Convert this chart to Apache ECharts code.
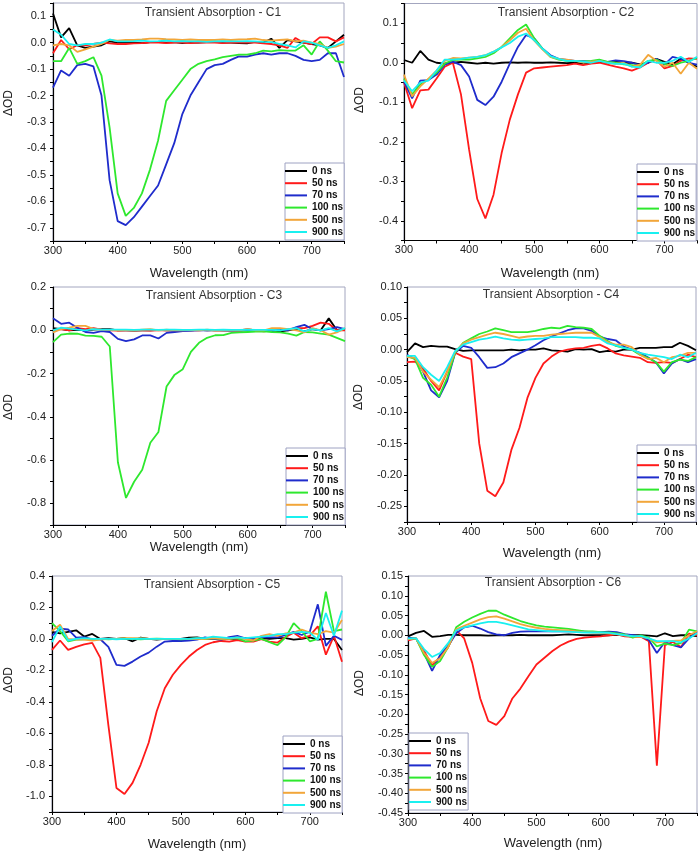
<!DOCTYPE html>
<html>
<head>
<meta charset="utf-8">
<script src="https://cdn.jsdelivr.net/npm/echarts/dist/echarts.min.js"></script>
<style>
html,body{margin:0;padding:0;background:#fff;}
#chart{width:700px;height:852px;}
</style>
</head>
<body>
<div id="chart"></div>
<script>
// ---------------- DATA ----------------
const wavelengths = [300, 312.5, 325, 337.5, 350, 362.5, 375, 387.5, 400, 412.5, 425, 437.5, 450, 462.5, 475, 487.5, 500, 512.5, 525, 537.5, 550, 562.5, 575, 587.5, 600, 612.5, 625, 637.5, 650, 662.5, 675, 687.5, 700, 712.5, 725, 737.5, 750];
const seriesNames = ['0 ns', '50 ns', '70 ns', '100 ns', '500 ns', '900 ns'];
const panelTitles = ['Transient Absorption - C1', 'Transient Absorption - C2', 'Transient Absorption - C3', 'Transient Absorption - C4', 'Transient Absorption - C5', 'Transient Absorption - C6'];
const xTicks = [300, 400, 500, 600, 700];

// C1
const c1_0 = [0.11, 0.02, 0.055, -0.01, -0.02, -0.015, -0.01, 0.005, 0, 0.003, 0, -0.002, 0.002, 0.003, 0, 0.002, -0.002, 0.001, 0, 0.002, 0.003, 0, 0, -0.002, -0.003, 0.003, 0, 0.015, -0.02, 0.01, 0.005, 0, -0.005, -0.01, -0.02, 0.005, 0.03];
const c1_50 = [-0.04, 0.01, -0.025, -0.01, -0.01, -0.005, 0, -0.003, -0.005, -0.005, -0.003, -0.002, 0, 0, -0.002, 0, 0, -0.002, 0, 0, 0, -0.002, 0, 0, 0, 0, -0.003, -0.005, -0.01, -0.02, 0.018, 0, -0.005, 0.02, 0.02, 0.005, 0.02];
const c1_70 = [-0.17, -0.105, -0.125, -0.085, -0.08, -0.09, -0.2, -0.52, -0.675, -0.69, -0.66, -0.62, -0.58, -0.54, -0.46, -0.38, -0.27, -0.2, -0.15, -0.1, -0.085, -0.08, -0.065, -0.052, -0.053, -0.045, -0.04, -0.045, -0.04, -0.04, -0.05, -0.065, -0.07, -0.065, -0.04, -0.04, -0.13];
const c1_100 = [-0.07, -0.07, -0.02, -0.08, -0.07, -0.055, -0.125, -0.32, -0.57, -0.655, -0.625, -0.57, -0.48, -0.37, -0.22, -0.18, -0.14, -0.1, -0.08, -0.07, -0.063, -0.055, -0.05, -0.045, -0.045, -0.04, -0.03, -0.033, -0.028, -0.03, -0.03, -0.01, -0.045, 0.005, -0.03, -0.07, -0.075];
const c1_500 = [-0.01, -0.005, -0.01, -0.035, -0.025, -0.015, -0.005, 0.01, 0.008, 0.01, 0.01, 0.012, 0.015, 0.015, 0.013, 0.012, 0.01, 0.012, 0.01, 0.01, 0.01, 0.012, 0.01, 0.012, 0.013, 0.015, 0.01, 0.008, 0.01, 0.012, 0.005, 0.008, 0, -0.005, -0.02, -0.015, -0.005];
const c1_900 = [0.05, 0.03, -0.005, -0.01, -0.005, -0.005, 0, 0.012, 0.005, 0.005, 0.006, 0.008, 0.005, 0.006, 0.008, 0.005, 0.006, 0.005, 0.005, 0.003, 0.005, 0.006, 0.005, 0.005, 0.006, 0.005, 0.003, 0.002, -0.005, -0.01, -0.018, 0.005, 0, -0.01, -0.02, -0.01, 0.005];

// C2
const c2_0 = [0.007, 0, 0.03, 0.008, 0, -0.002, 0, 0.002, 0, -0.002, 0, -0.002, 0, 0.001, 0, 0.001, 0, 0, 0.001, 0, -0.001, 0, -0.002, 0, 0.002, 0, 0.002, 0, 0, -0.004, 0, 0.01, 0.002, -0.004, 0.01, 0, -0.01];
const c2_50 = [-0.05, -0.115, -0.07, -0.068, -0.04, -0.01, 0, -0.08, -0.22, -0.345, -0.394, -0.334, -0.228, -0.144, -0.08, -0.025, -0.014, -0.012, -0.01, -0.008, -0.006, -0.002, -0.006, -0.002, 0, -0.005, -0.01, -0.014, -0.02, -0.012, 0, 0.007, -0.014, -0.008, 0.005, 0.011, 0.01];
const c2_70 = [-0.048, -0.09, -0.045, -0.044, -0.03, -0.005, 0.003, -0.006, -0.035, -0.094, -0.107, -0.086, -0.048, -0.002, 0.04, 0.07, 0.062, 0.036, 0.019, 0.01, 0.007, 0.005, 0.004, 0.003, 0.005, 0.002, 0.006, 0.004, 0, -0.006, 0, 0.01, -0.005, 0.015, 0.01, 0, -0.005];
const c2_100 = [-0.04, -0.08, -0.055, -0.042, -0.025, -0.002, 0.007, 0.008, 0.008, 0.011, 0.015, 0.024, 0.04, 0.062, 0.083, 0.097, 0.062, 0.036, 0.015, 0.008, 0.005, 0.005, 0.003, 0.005, 0.008, 0.002, 0, -0.004, -0.006, -0.008, 0.005, 0.008, -0.003, -0.008, 0, 0.005, 0.012];
const c2_500 = [-0.03, -0.085, -0.06, -0.04, -0.02, 0.005, 0.012, 0.011, 0.013, 0.015, 0.019, 0.028, 0.04, 0.057, 0.076, 0.086, 0.056, 0.034, 0.015, 0.01, 0.008, 0.005, 0, 0.003, 0.005, 0, -0.003, 0, -0.01, -0.005, 0.02, 0.005, -0.01, 0, -0.028, 0, -0.015];
const c2_900 = [-0.045, -0.072, -0.05, -0.045, -0.02, 0.008, 0.008, 0.01, 0.013, 0.015, 0.019, 0.028, 0.039, 0.05, 0.066, 0.074, 0.057, 0.036, 0.017, 0.01, 0.005, 0.005, 0.003, 0, 0.005, 0, -0.003, -0.002, -0.01, -0.012, 0.005, 0, 0, 0.005, 0.015, 0.002, 0.015];

// C3
const c3_0 = [0.01, 0.005, 0, 0.002, 0, 0.003, 0.005, 0.005, 0, 0, -0.002, 0, 0, 0.002, 0, 0, 0, 0, 0.002, 0, 0, 0, 0, -0.002, 0, 0.002, 0, 0, -0.005, 0, 0.005, -0.005, 0.005, 0, 0.055, 0, 0.005];
const c3_50 = [0, 0.005, 0, 0.01, 0.005, 0.01, 0.003, 0, -0.002, 0, 0, 0, -0.002, 0, 0, 0, 0.002, 0, 0, 0.002, 0, 0, 0, 0, 0.005, 0, -0.005, 0, 0.002, 0.005, 0.01, 0.01, 0.02, 0.035, 0.03, 0, 0];
const c3_70 = [0.055, 0.03, 0.035, 0.012, -0.008, -0.012, -0.004, -0.008, -0.04, -0.05, -0.042, -0.024, -0.024, -0.038, -0.012, -0.008, -0.004, -0.002, 0, 0, 0.002, 0, -0.002, 0, 0.002, 0, 0, -0.005, 0.005, 0, 0.015, 0.025, 0.005, 0, 0.005, 0.015, 0.005];
const c3_100 = [-0.055, -0.02, -0.015, -0.016, -0.025, -0.026, -0.03, -0.075, -0.61, -0.775, -0.7, -0.645, -0.52, -0.47, -0.26, -0.205, -0.18, -0.1, -0.058, -0.035, -0.023, -0.022, -0.012, -0.01, -0.008, -0.006, -0.005, -0.008, -0.01, -0.015, -0.025, -0.008, -0.01, -0.015, -0.02, -0.035, -0.05];
const c3_500 = [-0.01, 0.005, 0.012, 0.02, 0.02, 0.005, 0.003, 0.002, 0, 0.002, 0, 0.003, 0.005, 0, 0.003, 0, 0, 0.002, 0, 0.003, 0, 0, 0, 0, 0.005, 0, 0, 0.01, 0.01, 0.005, 0, -0.01, 0.01, 0, -0.02, -0.01, 0.01];
const c3_900 = [0, 0.012, 0.008, 0.003, 0, 0.005, 0.003, 0.003, 0.003, 0.003, 0.002, 0.003, 0.003, 0.002, 0.003, 0.003, 0.002, 0.002, 0.003, 0.003, 0.002, 0.003, 0.002, 0.002, 0.003, 0.002, 0.002, 0.002, 0, 0.005, 0.01, -0.005, 0.005, 0, 0.01, -0.005, 0.01];

// C4
const c4_0 = [-0.004, 0.01, 0.004, 0.006, 0.005, 0.005, 0.001, -0.002, -0.001, -0.001, -0.001, -0.001, -0.001, 0, -0.001, 0, 0, 0.002, -0.001, -0.002, -0.003, 0.001, 0, 0.001, -0.004, -0.002, -0.003, 0, 0, 0.003, 0.003, 0.003, 0.004, 0.004, 0.011, 0.006, -0.001];
const c4_50 = [-0.02, -0.019, -0.03, -0.05, -0.065, -0.035, -0.005, -0.011, -0.015, -0.15, -0.225, -0.234, -0.212, -0.16, -0.125, -0.077, -0.045, -0.022, -0.011, -0.003, 0, 0.002, 0.003, 0.006, 0.008, 0.002, -0.006, -0.009, -0.011, -0.013, -0.02, -0.021, -0.02, -0.021, -0.015, -0.008, -0.012];
const c4_70 = [-0.008, -0.015, -0.035, -0.065, -0.076, -0.05, -0.005, 0.006, 0.003, -0.012, -0.029, -0.028, -0.022, -0.012, -0.006, 0, 0.007, 0.015, 0.021, 0.026, 0.031, 0.034, 0.034, 0.03, 0.021, 0.017, 0.015, 0.005, 0, -0.005, -0.012, -0.02, -0.038, -0.022, -0.015, -0.02, -0.015];
const c4_100 = [-0.01, -0.015, -0.045, -0.056, -0.075, -0.045, -0.005, 0.011, 0.018, 0.025, 0.029, 0.034, 0.031, 0.028, 0.028, 0.028, 0.03, 0.033, 0.035, 0.034, 0.038, 0.036, 0.035, 0.033, 0.022, 0.014, 0.006, 0.003, 0, -0.008, -0.013, -0.02, -0.035, -0.02, -0.016, -0.018, -0.012];
const c4_500 = [-0.012, -0.013, -0.035, -0.048, -0.06, -0.035, -0.003, 0.01, 0.016, 0.02, 0.024, 0.027, 0.025, 0.022, 0.019, 0.021, 0.022, 0.022, 0.024, 0.025, 0.026, 0.027, 0.027, 0.027, 0.02, 0.012, 0.008, 0.008, 0.004, -0.008, -0.015, -0.013, -0.02, -0.012, -0.01, -0.005, -0.005];
const c4_900 = [-0.01, -0.01, -0.028, -0.04, -0.05, -0.028, -0.002, 0.008, 0.012, 0.016, 0.018, 0.021, 0.018, 0.016, 0.015, 0.016, 0.017, 0.018, 0.02, 0.02, 0.02, 0.02, 0.019, 0.019, 0.018, 0.01, 0.007, 0.003, 0, -0.005, -0.008, -0.01, -0.012, -0.015, -0.008, -0.012, -0.005];

// C5
const c5_0 = [0.045, 0.035, 0.045, 0.055, 0.015, 0.032, 0, 0.005, 0, 0.005, -0.015, 0.008, 0, -0.005, 0, -0.002, 0, 0.008, 0.01, 0.002, 0, -0.005, 0, 0, 0.005, 0, 0.005, 0, 0.005, 0.005, -0.005, 0, 0.01, -0.005, 0, 0, -0.07];
const c5_50 = [-0.07, -0.01, -0.07, -0.05, -0.035, -0.025, -0.12, -0.55, -0.947, -0.985, -0.915, -0.8, -0.66, -0.46, -0.313, -0.228, -0.165, -0.112, -0.07, -0.038, -0.021, -0.013, -0.017, -0.007, -0.017, -0.017, -0.002, -0.017, -0.023, 0.012, 0.04, 0.005, 0.02, 0.08, -0.1, 0.02, -0.145];
const c5_70 = [0.02, 0.065, 0.06, 0.008, 0.012, -0.002, -0.002, -0.05, -0.165, -0.171, -0.144, -0.112, -0.087, -0.049, -0.017, -0.013, -0.013, -0.01, -0.005, 0.01, 0, -0.005, 0.012, 0.02, 0.004, 0.004, 0.012, 0.01, 0.01, 0.025, 0.045, 0.025, 0.046, 0.22, -0.044, 0.02, -0.006];
const c5_100 = [0.1, 0.05, -0.015, -0.005, -0.002, 0, 0, -0.003, 0, 0.002, 0, -0.003, 0, 0.002, 0, 0, -0.002, 0, 0.003, 0, 0.005, 0, 0, 0.005, -0.015, -0.01, 0, -0.02, -0.04, 0.01, 0.1, 0.05, -0.015, 0, 0.3, 0.05, 0.06];
const c5_500 = [0.05, 0.09, 0, -0.005, -0.005, -0.01, -0.005, 0, 0, 0.005, 0.005, 0.005, 0.002, 0, 0, 0, 0, 0, 0.002, 0, 0.005, 0, 0, 0.01, 0, -0.01, 0.02, 0.03, 0.02, 0.035, 0.04, 0.06, 0.04, 0.03, 0.05, 0.04, 0.12];
const c5_900 = [-0.02, 0.08, -0.01, 0, 0.005, 0, 0, 0, -0.002, 0, 0, 0.002, 0, 0, 0, 0, 0, 0, 0.005, 0.005, 0.015, 0.01, 0.005, 0.01, 0.005, 0.01, 0.015, 0.02, 0.03, 0.03, 0.04, 0.045, 0.04, -0.005, 0.165, 0.02, 0.18];

// C6
const c6_0 = [-0.003, 0.006, 0.011, -0.004, -0.002, 0.001, 0.001, 0, 0, 0, -0.001, 0, 0, 0, 0.001, 0, 0, 0, 0, 0.001, 0.002, 0.001, 0, 0, 0, 0, 0.001, 0, 0, 0, -0.001, -0.003, 0.005, -0.002, 0, 0, -0.002];
const c6_50 = [-0.013, -0.008, -0.04, -0.076, -0.055, -0.03, 0.013, -0.008, -0.07, -0.16, -0.217, -0.227, -0.205, -0.16, -0.135, -0.104, -0.074, -0.057, -0.04, -0.026, -0.016, -0.009, -0.006, -0.004, -0.003, 0, 0.002, -0.003, -0.004, -0.004, -0.015, -0.33, -0.025, -0.017, -0.03, 0.004, 0];
const c6_70 = [-0.006, -0.008, -0.045, -0.09, -0.05, -0.027, 0.005, 0.02, 0.024, 0.017, 0.008, 0.002, 0, 0.006, 0.009, 0.01, 0.01, 0.01, 0.01, 0.01, 0.01, 0.01, 0.009, 0.008, 0.008, 0.009, 0.008, 0.003, 0, -0.003, -0.012, -0.045, -0.017, -0.025, -0.031, -0.008, 0.01];
const c6_100 = [-0.01, -0.008, -0.05, -0.08, -0.065, -0.03, 0.02, 0.034, 0.045, 0.054, 0.062, 0.062, 0.052, 0.044, 0.036, 0.03, 0.025, 0.022, 0.02, 0.018, 0.016, 0.013, 0.01, 0.01, 0.008, 0.007, 0.005, 0.002, -0.006, 0, -0.006, -0.028, -0.021, -0.025, -0.02, 0.014, 0.01];
const c6_500 = [-0.01, -0.008, -0.045, -0.07, -0.058, -0.03, 0.015, 0.024, 0.032, 0.04, 0.046, 0.048, 0.042, 0.035, 0.028, 0.023, 0.019, 0.016, 0.014, 0.013, 0.012, 0.01, 0.008, 0.007, 0.006, 0.005, 0.003, 0, -0.003, -0.004, -0.008, -0.018, -0.016, -0.014, -0.013, 0, 0.01];
const c6_900 = [-0.008, -0.008, -0.035, -0.055, -0.045, -0.02, 0.012, 0.02, 0.025, 0.03, 0.034, 0.034, 0.03, 0.025, 0.02, 0.015, 0.013, 0.011, 0.01, 0.01, 0.009, 0.008, 0.007, 0.007, 0.007, 0.006, 0.003, 0, -0.002, -0.002, -0.008, -0.015, -0.015, -0.015, -0.018, -0.008, 0.005];

const panelData = [
  [c1_0, c1_50, c1_70, c1_100, c1_500, c1_900],
  [c2_0, c2_50, c2_70, c2_100, c2_500, c2_900],
  [c3_0, c3_50, c3_70, c3_100, c3_500, c3_900],
  [c4_0, c4_50, c4_70, c4_100, c4_500, c4_900],
  [c5_0, c5_50, c5_70, c5_100, c5_500, c5_900],
  [c6_0, c6_50, c6_70, c6_100, c6_500, c6_900]
];
// y axis: [min, max, tick step, label step, decimals]
const yAxisRanges = [
  [-0.75, 0.15, 0.05, 0.1, 1],
  [-0.45, 0.15, 0.05, 0.1, 1],
  [-0.9, 0.2, 0.1, 0.2, 1],
  [-0.275, 0.1, 0.025, 0.05, 2],
  [-1.1, 0.4, 0.1, 0.2, 1],
  [-0.45, 0.15, 0.025, 0.05, 2]
];

// ---------------- LAYOUT / STYLE ----------------
const colors = ['#000000', '#ff1a1a', '#1f2ccc', '#2ee82e', '#f2a63a', '#19f0f0'];
const FONT = 'Liberation Sans, Arial, Helvetica, sans-serif';
const layout = [
  {grid: {left: 53, top: 3, width: 291, height: 238}, legend: [285, 163], title: [213, 13], yname: [9, 103], xname: [199, 273], lm: 7},
  {grid: {left: 404, top: 3.5, width: 293, height: 237}, legend: [637, 164], title: [566, 13], yname: [360, 100], xname: [550, 273], lm: 6},
  {grid: {left: 53, top: 287, width: 292, height: 238}, legend: [286, 448], title: [214, 296], yname: [9, 407], xname: [199, 547], lm: 7},
  {grid: {left: 407, top: 287, width: 289, height: 235}, legend: [637, 445], title: [551, 295], yname: [359, 397], xname: [552, 553], lm: 5},
  {grid: {left: 52, top: 576, width: 290, height: 236}, legend: [283, 736], title: [212, 585], yname: [9, 680], xname: [197, 844], lm: 7},
  {grid: {left: 408, top: 576, width: 289, height: 237}, legend: [409, 733], title: [553, 583], yname: [360, 683], xname: [553, 843], lm: 5}
];

const grids = [], xAxes = [], yAxes = [], series = [], legends = [], graphics = [];
layout.forEach((L, p) => {
  const [ymin, ymax, ystep, ylab, dec] = yAxisRanges[p];
  grids.push(Object.assign({show: true, borderColor: '#a3a6bf', borderWidth: 1, backgroundColor: 'transparent'}, L.grid));
  xAxes.push({
    type: 'value', gridIndex: p, min: 300, max: 750, interval: 50,
    axisLine: {show: true, onZero: false, lineStyle: {color: '#000', width: 1.2}},
    axisTick: {show: true, inside: false, length: 3, lineStyle: {color: '#000'}},
    axisLabel: {margin: 4, fontSize: 11, color: '#222', fontFamily: FONT,
      formatter: v => (xTicks.indexOf(Math.round(v)) >= 0 ? String(Math.round(v)) : '')},
    splitLine: {show: false}
  });
  yAxes.push({
    type: 'value', gridIndex: p, min: ymin, max: ymax, interval: ystep,
    axisLine: {show: true, onZero: false, lineStyle: {color: '#000', width: 1.2}},
    axisTick: {show: true, inside: false, length: 3, lineStyle: {color: '#000'}},
    axisLabel: {margin: L.lm, fontSize: 11, color: '#222', fontFamily: FONT,
      formatter: v => {
        const r = v / ylab;
        if (Math.abs(r - Math.round(r)) > 1e-6) return '';
        const vv = Math.abs(v) < 1e-9 ? 0 : v;
        return vv.toFixed(dec);
      }},
    splitLine: {show: false}
  });
  panelData[p].forEach((arr, s) => {
    series.push({
      type: 'line', name: seriesNames[s], xAxisIndex: p, yAxisIndex: p,
      data: wavelengths.map((w, i) => [w, arr[i]]),
      symbol: 'none', showSymbol: false, clip: true,
      lineStyle: {color: colors[s], width: 1.8}, itemStyle: {color: colors[s]},
      animation: false
    });
  });
  legends.push({
    orient: 'vertical', left: L.legend[0], top: L.legend[1], data: seriesNames,
    icon: 'rect', itemWidth: 22, itemHeight: 2, itemGap: 0.2, padding: [2, 1, 2, 0],
    backgroundColor: '#fff', borderColor: '#9ea2c2', borderWidth: 1,
    selectedMode: false,
    textStyle: {fontSize: 10, fontWeight: 'bold', color: '#111', fontFamily: FONT, lineHeight: 12}
  });
  graphics.push({type: 'text', x: L.title[0], y: L.title[1], z: 100,
    style: {text: panelTitles[p], fill: '#333', font: '12px ' + FONT, align: 'center', verticalAlign: 'middle'}});
  graphics.push({type: 'text', x: L.yname[0], y: L.yname[1], rotation: Math.PI / 2, z: 100,
    style: {text: 'ΔOD', fill: '#222', font: '12px ' + FONT, align: 'center', verticalAlign: 'middle'}});
  graphics.push({type: 'text', x: L.xname[0], y: L.xname[1], z: 100,
    style: {text: 'Wavelength (nm)', fill: '#222', font: '13px ' + FONT, align: 'center', verticalAlign: 'middle'}});
});

const chart = echarts.init(document.getElementById('chart'), null, {renderer: 'canvas', width: 700, height: 852});
chart.setOption({
  backgroundColor: '#fff',
  animation: false,
  grid: grids, xAxis: xAxes, yAxis: yAxes, series: series, legend: legends,
  graphic: graphics
});
</script>
</body>
</html>
